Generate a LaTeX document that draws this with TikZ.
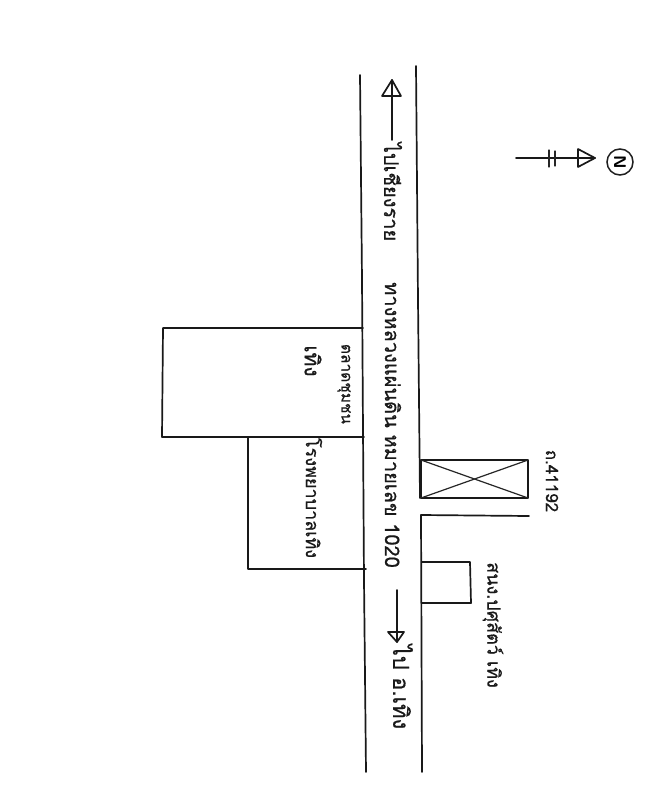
\documentclass[tikz,border=0pt]{standalone}
\usepackage{fontspec}
\newfontfamily\thaifont[Script=Thai,FakeBold=0.6]{Loma}
\tikzset{
  ink/.style={draw=black!90,line width=1.7pt,line cap=round,line join=round},
  thinink/.style={draw=black!85,line width=1.2pt,line cap=round,line join=round},
  thailabel/.style={rotate=-90,inner sep=0pt,text=black!90,font=\thaifont\fontsize{#1}{#1}\selectfont},
}
\begin{document}
\begin{tikzpicture}[x=1pt,y=-1pt]
\useasboundingbox[fill=white] (0,0) rectangle (658,800);
% road edges
\draw[ink] (360,75) -- (362,280) -- (364,580) -- (366,772);
\draw[ink] (416,66) -- (418,300) -- (420,498);
\draw[ink] (421,515) -- (422,772);
% side road and crossed block
\draw[ink] (421,460) -- (528,460) -- (528,498) -- (421,498) -- cycle;
\draw[thinink] (421,460) -- (528,498);
\draw[thinink] (421,498) -- (528,460);
\draw[ink] (421,515) -- (529,516);
% small building
\draw[ink] (422,562) -- (470,562) -- (471,603) -- (422,603);
% buildings below the road
\draw[ink] (363,328) -- (163,328) -- (162,437) -- (364,437);
\draw[ink] (248,437) -- (248,569) -- (366,569);
% west arrow
\draw[ink] (392,140) -- (392,80);
\draw[ink] (392,80) -- (382,96) -- (401,96) -- cycle;
% east arrow
\draw[ink] (397,590) -- (397,642);
\draw[ink] (397,642) -- (388,632) -- (404,632) -- cycle;
% north arrow
\draw[ink] (516,158) -- (595,158);
\draw[ink] (595,158) -- (578,149) -- (578,167) -- cycle;
\draw[thinink] (549,150) -- (549,167);
\draw[thinink] (555,151) -- (555,166);
\node[draw=black!88,line width=1.5pt,circle,minimum size=26pt,inner sep=0pt,rotate=-90,font=\sffamily\bfseries\fontsize{17}{17}\selectfont] (north) at (620,162) {N};
% labels
\node[thailabel=20] (west) at (393,192) {ไปเชียงราย};
\node[thailabel=20] (highway) at (393,425) {ทางหลวงแผ่นดิน หมายเลข 1020};
\node[thailabel=22] (east) at (403,687) {ไป อ.เทิง};
\node[thailabel=18] (hospital) at (314,498) {โรงพยาบาลเทิง};
\node[thailabel=15.5] (market) at (344,384) {ตลาดชุมชน};
\node[thailabel=21] (marketb) at (313,361) {เทิง};
\node[thailabel=18] (office) at (493,625) {สนง.ปศุสัตว์ เทิง};
\node[thailabel=17] (road) at (552,481) {ถ.41192};
\end{tikzpicture}
\end{document}
